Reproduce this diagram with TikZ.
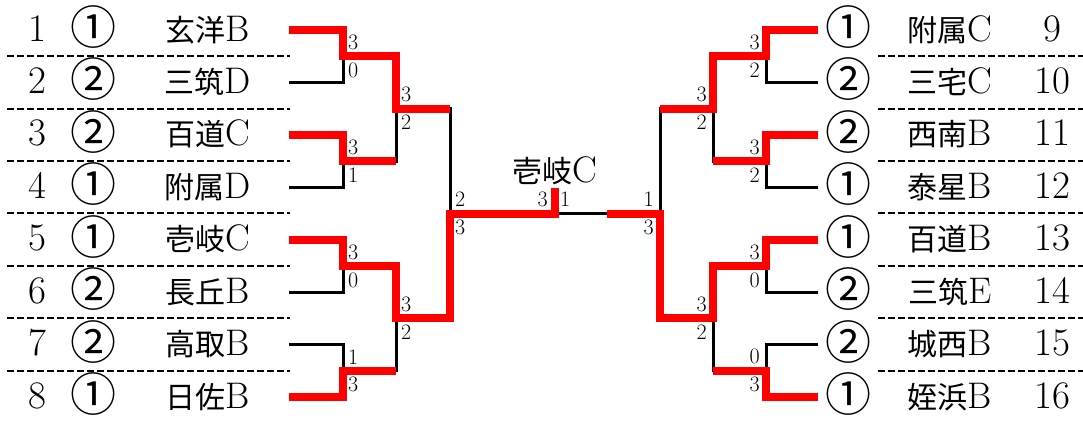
\documentclass[tikz,border=0pt]{standalone}
\usepackage{fontspec}
\newfontfamily\jp{Noto Sans CJK JP}
\newcommand\teamname[2]{{\jp\fontsize{30}{30}\selectfont #1}{\fontsize{37}{37}\selectfont #2}}
\begin{document}
\begin{tikzpicture}[x=1pt,y=-1pt,
  win/.style={draw=red,line width=8pt,line join=miter},
  lose/.style={draw=black,line width=3pt,line join=miter},
  sep/.style={draw=black,line width=2pt,dash pattern=on 7pt off 3pt},
  num/.style={anchor=base,inner sep=0pt,font=\fontsize{39}{39}\selectfont},
  circ/.style={anchor=center,inner sep=0pt,font=\jp\fontsize{46}{46}\selectfont},
  team/.style={anchor=base,inner sep=0pt},
  sc/.style={inner sep=0pt,font=\fontsize{22}{22}\selectfont}]
\useasboundingbox (0,0) rectangle (1083,421);
% separators
\foreach \k [evaluate=\k as \y using 56.2+(\k-1)*52.43] in {1,...,7}{
  \draw[sep] (7,\y) -- (290,\y);
  \draw[sep] (878,\y) -- (1083,\y);
}
% left rows
\foreach \i/\c/\a/\b [evaluate=\i as \y using 30+(\i-1)*52.43] in
  {1/①/玄洋/B,2/②/三筑/D,3/②/百道/C,4/①/附属/D,5/①/壱岐/C,6/②/長丘/B,7/②/高取/B,8/①/日佐/B}{
  \node[num] (n\i) at (37,\y+11) {\i};
  \node[circ] (c\i) at (93,\y-3) {\c};
  \node[team] (t\i) at (208,\y+11) {\teamname{\a}{\b}};
  \coordinate (L\i) at (289,\y);
}
% right rows
\foreach \i/\c/\a/\b [evaluate=\i as \y using 30+(\i-9)*52.43] in
  {9/①/附属/C,10/②/三宅/C,11/②/西南/B,12/①/泰星/B,13/①/百道/B,14/②/三筑/E,15/②/城西/B,16/①/姪浜/B}{
  \node[num] (n\i) at (1052,\y+11) {\i};
  \node[circ] (c\i) at (848,\y-3) {\c};
  \node[team] (t\i) at (950,\y+11) {\teamname{\a}{\b}};
  \coordinate (R\i) at (818,\y);
}
% junctions
\coordinate (A1) at (343,56.2);
\coordinate (A2) at (343,161.1);
\coordinate (A3) at (343,265.9);
\coordinate (A4) at (343,370.8);
\coordinate (B1) at (396,108.6);
\coordinate (B2) at (396,318.3);
\coordinate (C1) at (450,213.5);
\coordinate (F) at (555,213.5);
\coordinate (Ft) at (555,188);
\coordinate (G) at (607,213.5);
\coordinate (C2) at (660,213.5);
\coordinate (B3) at (713,108.6);
\coordinate (B4) at (713,318.3);
\coordinate (A5) at (766,56.2);
\coordinate (A6) at (766,161.1);
\coordinate (A7) at (766,265.9);
\coordinate (A8) at (766,370.8);
% losing lines
\draw[lose] (L2) -| (A1);
\draw[lose] (L4) -| (A2);
\draw[lose] (L6) -| (A3);
\draw[lose] (L7) -| (A4);
\draw[lose] (A2) -| (B1);
\draw[lose] (A4) -| (B2);
\draw[lose] (B1) -| (C1);
\draw[lose] (F) -- (G);
\draw[lose] (R10) -| (A5);
\draw[lose] (R12) -| (A6);
\draw[lose] (R14) -| (A7);
\draw[lose] (R15) -| (A8);
\draw[lose] (A6) -| (B3);
\draw[lose] (A8) -| (B4);
\draw[lose] (B3) -| (C2);
% winning lines
\draw[win] (L1) -| (A1) -| (B1) -- (B1 -| C1);
\draw[win] (L3) -| (A2) -- (A2 -| B1);
\draw[win] (L5) -| (A3) -| (B2) -| (C1) -| (Ft);
\draw[win] (L8) -| (A4) -- (A4 -| B2);
\draw[win] (R9) -| (A5) -| (B3) -- (B3 -| C2);
\draw[win] (R11) -| (A6) -- (A6 -| B3);
\draw[win] (R13) -| (A7) -| (B4) -| (C2) -- (G);
\draw[win] (R16) -| (A8) -- (A8 -| B4);
% champion
\node[team] (champ) at (555,182) {\teamname{壱岐}{C}};
% scores left
\foreach \j/\u/\d in {A1/3/0,A2/3/1,A3/3/0,A4/1/3,B1/3/2,B2/3/2,C1/2/3}{
  \node[sc,anchor=west] (u\j) at ([xshift=5pt,yshift=14pt]\j) {\u};
  \node[sc,anchor=west] (d\j) at ([xshift=5pt,yshift=-14pt]\j) {\d};
}
% scores right
\foreach \j/\u/\d in {A5/3/2,A6/3/2,A7/3/0,A8/0/3,B3/3/2,B4/3/2,C2/1/3}{
  \node[sc,anchor=east] (u\j) at ([xshift=-6pt,yshift=14pt]\j) {\u};
  \node[sc,anchor=east] (d\j) at ([xshift=-6pt,yshift=-14pt]\j) {\d};
}
\node[sc,anchor=east] (fl) at ([xshift=-7pt,yshift=14pt]F) {3};
\node[sc,anchor=west] (fr) at ([xshift=5pt,yshift=14pt]F) {1};
\end{tikzpicture}
\end{document}
